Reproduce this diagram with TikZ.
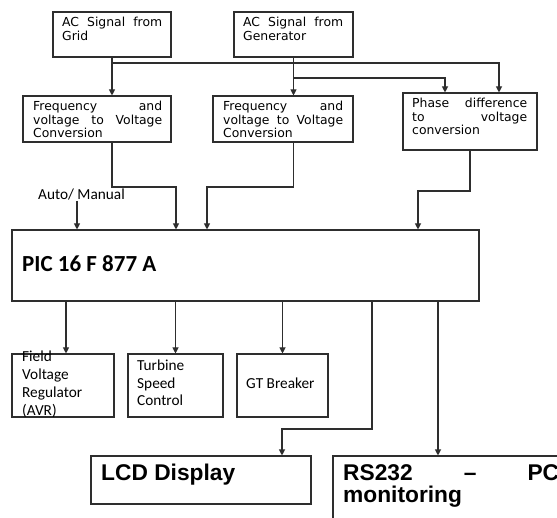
\documentclass[tikz,border=0pt]{standalone}
\usepackage{fontspec}
\usetikzlibrary{arrows.meta}
\newfontfamily\dvfont{DejaVu Sans}
\newfontfamily\cbfont{Carlito}
\newfontfamily\arfont{Liberation Sans}
\definecolor{linec}{HTML}{2E2E2E}
\newcommand\nohyph{\hyphenpenalty=10000 \exhyphenpenalty=10000 \tolerance=10000 \hbadness=10000 }
\newcommand\dvs{\nohyph\dvfont\fontsize{12.4pt}{13.5pt}\selectfont}
\newcommand\cbs{\nohyph\cbfont\fontsize{15.3pt}{17.8pt}\selectfont}
\newcommand\cbt{\nohyph\cbfont\fontsize{15.3pt}{17.5pt}\selectfont}
\newcommand\cbbig{\cbfont\bfseries\fontsize{23pt}{27pt}\selectfont}
\newcommand\arbig{\nohyph\arfont\bfseries\fontsize{22.75pt}{22pt}\selectfont}
\begin{document}
\begin{tikzpicture}[x=1pt,y=-1pt,
  box/.style={draw=linec, line width=1.1pt, inner sep=0pt, rectangle},
  arr/.style={draw=linec, line width=1.1pt, -{Triangle[length=6pt,width=6pt]}},
  dvtxt/.style={inner sep=0pt, anchor=base west, align=justify, font=\dvs},
  cbtxt/.style={inner sep=0pt, anchor=base west, align=left, font=\cbs},
]
\clip (0,0) rectangle (557,518);
\fill[white] (0,0) rectangle (557,518);

% boxes
\node[box, minimum width=118pt, minimum height=45pt] (grid) at (112,34.5) {};
\node[box, minimum width=119pt, minimum height=45pt] (gen) at (293.5,34.5) {};
\node[box, minimum width=148pt, minimum height=46pt] (fr1) at (97,119) {};
\node[box, minimum width=140pt, minimum height=46pt] (fr2) at (283,119) {};
\node[box, minimum width=134pt, minimum height=57pt] (phase) at (470,121.5) {};
\node[box, minimum width=467pt, minimum height=71pt] (pic) at (245.5,265.5) {};
\node[box, minimum width=102pt, minimum height=63pt] (avr) at (63,385.5) {};
\node[box, minimum width=95pt, minimum height=63pt] (turb) at (175.5,385.5) {};
\node[box, minimum width=91pt, minimum height=63pt] (gt) at (282.5,385.5) {};
\node[box, minimum width=220pt, minimum height=48pt] (lcd) at (201,480) {};
\node[box, minimum width=267pt, minimum height=104pt] (rs) at (466.5,508) {};

% texts
\node[dvtxt, text width=100pt] (tgrid) at (62,27) {AC Signal from Grid};
\node[dvtxt, text width=100pt] (tgen) at (243,27) {AC Signal from Generator};
\node[dvtxt, text width=129pt] (tfr1) at (33,111) {Frequency and voltage to Voltage Conversion};
\node[dvtxt, text width=120pt] (tfr2) at (223,111) {Frequency and voltage to Voltage Conversion};
\node[dvtxt, text width=115pt] (tphase) at (412,108) {Phase difference to voltage conversion};
\node[cbtxt] (auto) at (38,200) {Auto/ Manual};
\node[inner sep=0pt, anchor=base west, font=\cbbig] (tpic) at (22,272) {PIC 16 F 877 A};
\node[cbtxt, text width=90pt] (tavr) at (22,362) {Field\\Voltage\\Regulator\\(AVR)};
\node[cbtxt, text width=85pt, font=\cbt] (tturb) at (137,371) {Turbine\\Speed\\Control};
\node[cbtxt] (tgt) at (246,389) {GT Breaker};
\node[inner sep=0pt, anchor=base west, font=\arbig] (tlcd) at (101,480) {LCD Display};
\node[inner sep=0pt, anchor=base west, align=justify, text width=216pt, font=\arbig] (trs) at (343,480) {RS232 – PC monitoring};

% connectors
\coordinate (j1) at (grid.south |- 0,63);
\coordinate (j2) at (gen.south |- 0,78);
\draw[arr] (grid.south) -- (grid.south |- fr1.north);
\draw[arr] (j1) -| ([xshift=29pt]phase.north);
\draw[arr] (gen.south) -- (gen.south |- fr2.north);
\draw[arr] (j2) -| ([xshift=-25pt]phase.north);

\draw[arr] (grid.south |- fr1.south) |- (176,187) -- (176,187 |- pic.north);
\draw[arr] (gen.south |- fr2.south) |- (207,187) -- (207,187 |- pic.north);
\draw[arr] (phase.south) |- (418,191) -- (418,191 |- pic.north);
\coordinate (am) at (77,201);
\draw[arr] (am) -- (am |- pic.north);

\draw[arr] (pic.south -| 66,0) -- (66,0 |- avr.north);
\draw[arr] (pic.south -| turb.north) -- (turb.north);
\draw[arr] (pic.south -| gt.north) -- (gt.north);
\draw[arr] (pic.south -| 372,0) |- (282,429) -- (282,429 |- lcd.north);
\draw[arr] (pic.south -| 438,0) -- (438,0 |- rs.north);
\end{tikzpicture}
\end{document}
